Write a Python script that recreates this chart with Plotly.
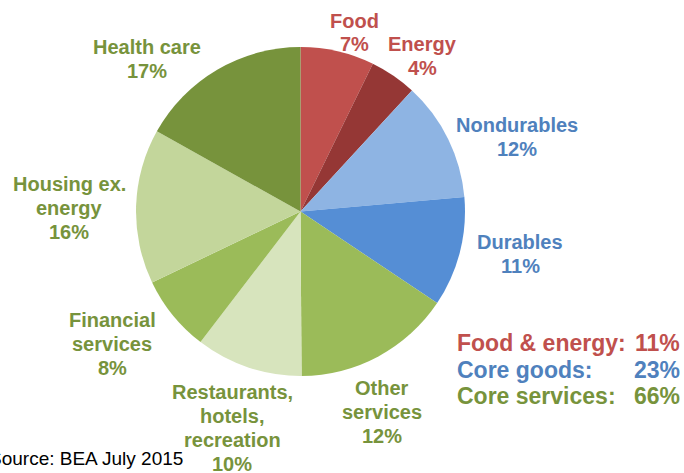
import plotly.graph_objects as go

categories = ["Food", "Energy", "Nondurables", "Durables", "Other services",
              "Restaurants, hotels, recreation", "Financial services",
              "Housing ex. energy", "Health care"]
values = [7.25, 4.6, 11.75, 10.8, 15.5, 10.5, 7.5, 15.2, 16.9]
label_lines = [["Food", "7%"], ["Energy", "4%"], ["Nondurables", "12%"],
               ["Durables", "11%"], ["Other", "services", "12%"],
               ["Restaurants,", "hotels,", "recreation", "10%"],
               ["Financial", "services", "8%"], ["Housing ex.", "energy", "16%"],
               ["Health care", "17%"]]
groups = ["fe", "fe", "goods", "goods", "serv", "serv", "serv", "serv", "serv"]

summary_labels = ["Food & energy:", "Core goods:", "Core services:"]
summary_values = ["11%", "23%", "66%"]
summary_groups = ["fe", "goods", "serv"]

source_text = "Source: BEA July 2015"

slice_colors = ["#C0504D", "#953735", "#8EB4E3", "#558ED5", "#9BBB59",
                "#D7E4BD", "#9BBB59", "#C3D69B", "#77933C"]
text_colors = {"fe": "#C0504D", "goods": "#4F81BD", "serv": "#77933C"}

W, H = 684, 473
FONT = '"Liberation Sans", Arial, sans-serif'

def px(x):
    return x / W

def py(y):
    return 1 - y / H

fig = go.Figure(go.Pie(
    labels=categories, values=values, sort=False, direction="clockwise",
    rotation=0, textinfo="none", hoverinfo="label+percent",
    marker=dict(colors=slice_colors, line=dict(width=0)),
    domain=dict(x=[px(136), px(465)], y=[py(376), py(47)]),
    showlegend=False,
))

# label block centres (pixels) and line spacing
label_pos = [(354, 32.5), (422, 56.5), (517, 137), (520, 254), (382, 412),
             (232, 428), (112, 344), (69, 208), (147, 59)]
LS = 24

annotations = []
for lines, g, (x, y) in zip(label_lines, groups, label_pos):
    n = len(lines)
    for i, line in enumerate(lines):
        yy = y + (i - (n - 1) / 2) * LS
        annotations.append(dict(
            x=px(x), y=py(yy), xref="paper", yref="paper", text="<b>" + line + "</b>",
            showarrow=False, xanchor="center", yanchor="middle", align="center",
            font=dict(family=FONT, size=20, color=text_colors[g]),
        ))

# summary box
rows_y = [343, 370, 396]
for lab, val, g, y in zip(summary_labels, summary_values, summary_groups, rows_y):
    annotations.append(dict(
        x=px(455), y=py(y), xref="paper", yref="paper", text="<b>%s</b>" % lab,
        showarrow=False, xanchor="left", yanchor="middle",
        font=dict(family=FONT, size=23, color=text_colors[g]),
    ))
    annotations.append(dict(
        x=px(682), y=py(y), xref="paper", yref="paper", text="<b>%s</b>" % val,
        showarrow=False, xanchor="right", yanchor="middle",
        font=dict(family=FONT, size=23, color=text_colors[g]),
    ))

annotations.append(dict(
    x=px(-13), y=py(458), xref="paper", yref="paper", text=source_text,
    showarrow=False, xanchor="left", yanchor="middle",
    font=dict(family=FONT, size=19, color="#000000"),
))

fig.update_layout(
    width=W, height=H, margin=dict(l=0, r=0, t=0, b=0),
    paper_bgcolor="white", plot_bgcolor="white",
    annotations=annotations,
)

fig.write_html("out.html", config={"displayModeBar": False},
               post_script="document.body.style.margin='0px';document.body.style.padding='0px';")
